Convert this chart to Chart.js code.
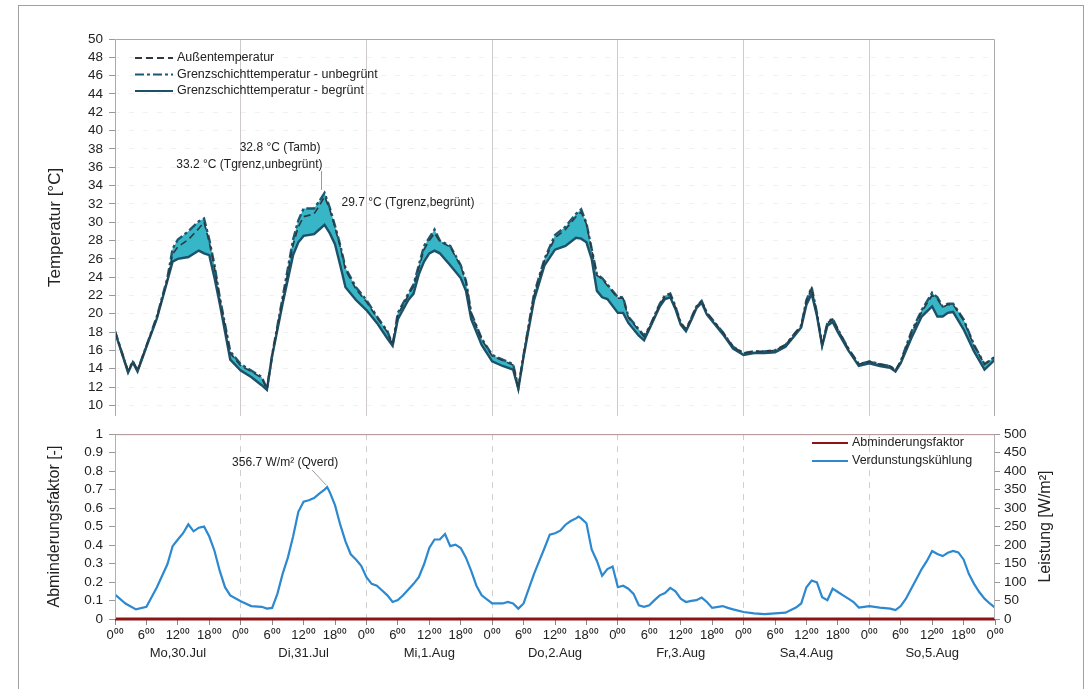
<!DOCTYPE html>
<html>
<head>
<meta charset="utf-8">
<script src="https://cdn.jsdelivr.net/npm/chart.js@4.4.0/dist/chart.umd.min.js"></script>
<style>
  body { margin: 0; background: #fff; width: 1090px; height: 689px; overflow: hidden; position: relative; }
  #rahmen { position: absolute; left: 18px; top: 5px; width: 1064px; height: 700px; border: 1px solid #a0a0a0; }
  #oben { position: absolute; left: 0; top: 0; }
  #unten { position: absolute; left: 0; top: 420px; }
</style>
</head>
<body>
<div id="rahmen"></div>
<canvas id="oben" width="1090" height="430"></canvas>
<canvas id="unten" width="1090" height="269"></canvas>
<script>
// Stunden ab Mo, 30.Jul 0:00
const stunden = [0,2.5,3.4,4.3,6,8,10,11,12,14,
  16,17,18,19,20,22,24,26,28,29,
  30,32,34,35,36,38,39,40,41,42,
  43,44,46,48,50,52,53,54,56,57,
  58,59,60,61,62,64,66,67,68,70,
  72,74,76,77,78,80,82,84,86,88,
  89,90,91,92,93,94,96,97,98,100,
  101,102,104,105,106,107,108,109,110,111,
  112,113,114,116,118,120,122,124,126,128,
  130,131,132,133,134,135,136,137,138,140,
  142,144,146,148,149,150,152,154,156,157,
  158,159,160,162,164,166,168];

const tAussen = [18.1,13.7,14.8,13.8,16.5,19.6,23.7,26.5,27.3,28.1,
  29.3,30.0,27.8,25.0,21.6,15.7,14.3,13.7,13.0,11.8,
  15.5,21.5,27.5,29.5,30.6,30.9,31.8,32.8,31.4,29.4,
  27.3,24.8,22.7,21.3,19.6,18.0,16.6,19.9,22.0,23.0,
  25.0,27.0,28.0,28.8,27.9,27.3,25.2,23.5,20.0,17.2,
  15.4,14.9,14.4,11.9,15.5,22.0,25.8,28.3,29.2,30.6,
  31.1,29.8,27.0,24.2,23.8,23.1,21.7,21.7,19.6,18.2,
  17.5,18.5,21.0,21.9,22.1,20.7,19.0,18.3,19.5,20.8,
  21.4,20.1,19.4,18.0,16.4,15.7,15.9,15.9,16.0,16.6,
  18.0,18.7,21.4,22.8,20.0,16.6,19.0,19.4,18.3,16.2,
  14.5,14.8,14.5,14.3,13.8,14.8,17.8,20.2,22.0,21.6,
  20.7,21.0,21.0,19.3,16.5,14.5,15.3];

const tUnbegruent = [18.1,13.7,14.8,13.8,16.5,19.7,23.9,27.1,28.1,29.0,
  30.1,30.4,28.1,25.3,21.8,15.9,14.5,13.8,13.1,11.8,
  15.5,21.8,28.1,30.2,31.5,31.5,32.3,33.2,31.6,29.6,
  27.5,25.0,22.9,21.5,19.7,18.1,16.6,20.1,22.2,23.2,
  25.3,27.4,28.3,29.2,28.0,27.4,25.3,23.6,20.1,17.3,
  15.5,15.0,14.5,11.9,15.5,22.2,26.0,28.6,29.5,30.9,
  31.4,29.9,27.1,24.3,23.9,23.2,21.8,21.8,19.7,18.3,
  17.6,18.5,21.1,22.0,22.2,20.8,19.0,18.3,19.5,20.8,
  21.4,20.1,19.4,18.0,16.4,15.7,15.9,15.9,16.0,16.6,
  18.0,18.7,21.5,22.9,20.1,16.6,19.0,19.5,18.3,16.2,
  14.5,14.8,14.5,14.3,13.8,14.8,18.0,20.4,22.3,21.8,
  20.8,21.1,21.1,19.4,16.6,14.5,15.3];

const tBegruent = [18.0,13.6,14.7,13.7,16.4,19.5,23.6,25.7,26.0,26.2,
  26.9,26.6,26.4,23.9,21.1,15.0,13.8,13.1,12.2,11.7,
  15.4,21.1,26.4,27.8,28.5,28.7,29.2,29.7,28.8,27.6,
  25.3,22.9,21.5,20.4,19.0,17.3,16.5,19.4,21.5,22.2,
  24.3,25.7,26.6,26.9,26.6,25.3,23.9,22.5,19.4,16.6,
  14.8,14.3,13.9,11.8,15.3,21.5,25.3,27.0,27.4,28.3,
  28.2,27.8,26.0,22.5,21.8,21.6,20.1,20.1,19.0,17.6,
  17.1,18.3,20.8,21.6,21.8,20.5,18.8,18.1,19.3,20.6,
  21.2,19.9,19.2,17.8,16.2,15.5,15.7,15.7,15.8,16.4,
  17.8,18.5,21.0,22.2,19.8,16.5,18.7,19.1,18.0,16.0,
  14.3,14.6,14.3,14.1,13.7,14.6,17.3,19.7,20.8,19.7,
  19.7,20.1,20.2,18.3,15.9,13.9,15.0];

const stundenQ = [0,2,4,6,8,10,11,12,13,14,
  15,16,17,18,19,20,21,22,24,26,
  28,29,30,31,32,33,34,35,36,37,
  38,39,40,40.5,41,42,43,44,45,46,
  47,48,49,50,51,52,53,54,55,56,
  57,58,59,60,61,62,63,64,65,66,
  67,68,69,70,72,74,75,76,77,78,
  79,80,81,82,83,84,85,86,87,88,
  88.5,89,90,91,92,93,94,95,96,97,
  98,99,100,101,102,103,104,105,106,107,
  108,109,110,111,112,113,114,116,117,118,
  120,122,124,126,128,130,131,132,133,134,
  135,136,137,138,139,140,141,142,143,144,
  146,148,149,150,151,152,153,154,155,156,
  157,158,159,160,161,162,163,164,165,166,
  167,168];

const qVerd = [66,42,26,33,86,148,197,215,232,256,
  237,247,250,223,184,130,86,64,48,35,
  33,28,30,68,122,166,223,290,317,321,
  327,339,350,356.7,343,308,255,210,175,161,
  144,113,95,90,77,64,46,51,64,80,
  95,113,148,192,215,215,230,197,201,192,
  166,130,90,64,42,42,46,42,28,42,
  82,122,157,192,228,232,239,255,265,272,
  277,272,259,188,157,117,135,142,86,90,
  82,68,37,33,37,51,64,70,84,75,
  55,46,49,51,58,46,30,35,30,26,
  19,15,13,15,17,31,42,86,104,99,
  59,51,82,73,64,55,46,31,33,35,
  31,28,24,35,55,82,108,135,157,184,
  176,170,179,184,180,161,122,95,73,55,
  42,31];

const abmStunden = [0, 168];
const abminderung = [0, 0];

const tempTicks = [10,12,14,16,18,20,22,24,26,28,30,32,34,36,38,40,42,44,46,48,50];
const faktorTicks = [0,0.1,0.2,0.3,0.4,0.5,0.6,0.7,0.8,0.9,1];
const leistungTicks = [0,50,100,150,200,250,300,350,400,450,500];
const zeitTicks = [];
for (let h = 0; h <= 168; h += 6) zeitTicks.push(h);
const tagGrenzen = [24,48,72,96,120,144];
const tage = ['Mo,30.Jul','Di,31.Jul','Mi,1.Aug','Do,2.Aug','Fr,3.Aug','Sa,4.Aug','So,5.Aug'];
const uhrzeiten = {0: '0\u2070\u2070', 6: '6\u2070\u2070', 12: '12\u2070\u2070', 18: '18\u2070\u2070'};

const schrift = '"Liberation Sans", Arial, sans-serif';
const textFarbe = '#222';

function punkte(xs, ys) {
  return xs.map((x, i) => ({ x: x, y: ys[i] }));
}

// Rahmen um die Plotfläche
const rahmenPlugin = {
  id: 'rahmenPlugin',
  afterDraw(chart, args, opts) {
    const a = chart.chartArea;
    const c = chart.ctx;
    c.save();
    c.lineWidth = 1;
    c.strokeStyle = opts.farbe || '#a8a8a8';
    c.beginPath();
    c.moveTo(a.left + 0.5, a.bottom);
    c.lineTo(a.left + 0.5, a.top + 0.5);
    c.lineTo(a.right - 0.5, a.top + 0.5);
    c.lineTo(a.right - 0.5, a.bottom);
    c.stroke();
    if (opts.oben) {
      c.strokeStyle = opts.oben;
      c.beginPath();
      c.moveTo(a.left, a.top + 0.5);
      c.lineTo(a.right, a.top + 0.5);
      c.stroke();
    }
    c.restore();
  }
};

// Legende (selbst gezeichnet, in der Plotfläche)
const legendePlugin = {
  id: 'legendePlugin',
  afterDraw(chart, args, opts) {
    const c = chart.ctx;
    c.save();
    c.font = '12.5px ' + schrift;
    c.textBaseline = 'middle';
    c.fillStyle = textFarbe;
    opts.eintraege.forEach((idx, i) => {
      const ds = chart.data.datasets[idx];
      const y = opts.y + i * opts.abstand;
      c.strokeStyle = ds.borderColor;
      c.lineWidth = 2;
      c.setLineDash(ds.borderDash || []);
      c.beginPath();
      c.moveTo(opts.x, y);
      c.lineTo(opts.x + opts.laenge, y);
      c.stroke();
      c.setLineDash([]);
      c.fillText(ds.label, opts.x + opts.laenge + 4, y);
    });
    c.restore();
  }
};

// Beschriftungen der Spitzenwerte
const notizPlugin = {
  id: 'notizPlugin',
  afterDraw(chart, args, opts) {
    const c = chart.ctx;
    c.save();
    c.font = '12px ' + schrift;
    c.fillStyle = textFarbe;
    c.textBaseline = 'middle';
    opts.notizen.forEach(n => {
      const px = chart.scales.x.getPixelForValue(n.x);
      const py = chart.scales[n.achse].getPixelForValue(n.y);
      if (n.linie) {
        c.strokeStyle = '#9a9a9a';
        c.lineWidth = 1;
        c.beginPath();
        c.moveTo(px + n.linie[0], py + n.linie[1]);
        c.lineTo(px + n.linie[2], py + n.linie[3]);
        c.stroke();
      }
      n.zeilen.forEach(z => {
        c.textAlign = z.align;
        c.fillText(z.text, px + z.dx, py + z.dy);
      });
    });
    if (opts.rechtsTitel) {
      const a = chart.chartArea;
      c.font = '16px ' + schrift;
      c.textAlign = 'center';
      c.translate(opts.rechtsTitel.x, (a.top + a.bottom) / 2);
      c.rotate(-Math.PI / 2);
      c.fillText(opts.rechtsTitel.text, 0, 0);
    }
    c.restore();
  }
};

const tickFont = { family: schrift, size: 13.5 };

new Chart(document.getElementById('oben'), {
  type: 'line',
  data: {
    datasets: [
      { label: 'Außentemperatur', data: punkte(stunden, tAussen), borderColor: '#2f3a40',
        borderWidth: 1.6, borderDash: [7, 4], pointRadius: 0, fill: false, tension: 0 },
      { label: 'Grenzschichttemperatur - begrünt', data: punkte(stunden, tBegruent), borderColor: '#1b5169',
        borderWidth: 2.4, pointRadius: 0, fill: false, tension: 0 },
      { label: 'Grenzschichttemperatur - unbegrünt', data: punkte(stunden, tUnbegruent), borderColor: '#1d5872',
        borderWidth: 2.4, borderDash: [9, 3, 3, 3], pointRadius: 0, fill: 1,
        backgroundColor: '#36b6c7', tension: 0 }
    ]
  },
  options: {
    responsive: false,
    animation: false,
    layout: { padding: { top: 39, right: 95, left: 0, bottom: 0 } },
    plugins: {
      legend: { display: false },
      tooltip: { enabled: false },
      rahmenPlugin: { farbe: '#a9a9a9' },
      legendePlugin: { x: 135, y: 58, abstand: 16.5, laenge: 38, eintraege: [0, 2, 1] },
      notizPlugin: {
        notizen: [
          { x: 40, y: 33.2, achse: 'y', linie: [-3, -22, -3, -3], zeilen: [
            { text: '32.8 °C (Tamb)', align: 'right', dx: -4, dy: -45 },
            { text: '33.2 °C (Tgrenz,unbegrünt)', align: 'right', dx: -2, dy: -28 }
          ] },
          { x: 40, y: 29.7, achse: 'y', zeilen: [
            { text: '29.7 °C (Tgrenz,begrünt)', align: 'left', dx: 17, dy: -22 }
          ] }
        ]
      }
    },
    scales: {
      x: {
        type: 'linear', min: 0, max: 168,
        afterBuildTicks: s => { s.ticks = tagGrenzen.map(v => ({ value: v })); },
        ticks: { display: false },
        grid: { color: '#cfcaca', drawTicks: false },
        border: { display: false },
        afterFit: s => { s.height = 0; }
      },
      y: {
        min: 8.85, max: 50,
        afterBuildTicks: s => { s.ticks = tempTicks.map(v => ({ value: v })); },
        ticks: { font: tickFont, color: textFarbe, padding: 6, autoSkip: false },
        grid: { color: '#f1f1f1', tickColor: '#999', tickLength: 6 },
        border: { display: false, dash: [5, 9] },
        title: { display: true, text: 'Temperatur [°C]', color: textFarbe,
          font: { family: schrift, size: 17 }, padding: { top: 45, bottom: 0 } },
        afterFit: s => { s.width = 115; }
      }
    }
  },
  plugins: [rahmenPlugin, legendePlugin, notizPlugin]
});

new Chart(document.getElementById('unten'), {
  type: 'line',
  data: {
    datasets: [
      { label: 'Abminderungsfaktor', data: punkte(abmStunden, abminderung), yAxisID: 'y',
        borderColor: '#8e1414', borderWidth: 3, pointRadius: 0, fill: false, clip: 6 },
      { label: 'Verdunstungskühlung', data: punkte(stundenQ, qVerd), yAxisID: 'y2',
        borderColor: '#2c88cf', borderWidth: 2.2, pointRadius: 0, fill: false, tension: 0 }
    ]
  },
  options: {
    responsive: false,
    animation: false,
    layout: { padding: { top: 10, right: 0, left: 0, bottom: 0 } },
    plugins: {
      legend: { display: false },
      tooltip: { enabled: false },
      rahmenPlugin: { farbe: '#b0b0b0', oben: '#b89a9a' },
      legendePlugin: { x: 812, y: 23, abstand: 18, laenge: 36, eintraege: [0, 1] },
      notizPlugin: {
        notizen: [
          { x: 40.5, y: 356.7, achse: 'y2', linie: [-15, -17, -1, -2], zeilen: [
            { text: '356.7 W/m² (Qverd)', align: 'right', dx: 11, dy: -24 }
          ] }
        ],
        rechtsTitel: { x: 1046, text: 'Leistung [W/m²]' }
      }
    },
    scales: {
      x: {
        type: 'linear', min: 0, max: 168,
        afterBuildTicks: s => { s.ticks = zeitTicks.map(v => ({ value: v })); },
        ticks: {
          font: { family: schrift, size: 13, lineHeight: 1.4 }, color: textFarbe, padding: 1, maxRotation: 0,
          autoSkip: false,
          callback: v => {
            const h = v % 24;
            const tag = Math.floor(v / 24);
            if (h === 12) return [uhrzeiten[h], tage[tag]];
            return [uhrzeiten[h], ''];
          }
        },
        grid: {
          color: c => (c.tick && c.tick.value % 24 === 0 && c.tick.value > 0 && c.tick.value < 168) ? '#cfcfcf' : 'rgba(0,0,0,0)',
          tickColor: '#888', tickLength: 6
        },
        border: { display: false, dash: [6, 6] },
        afterFit: s => { s.height = 70; }
      },
      y: {
        position: 'left', min: 0, max: 1,
        afterBuildTicks: s => { s.ticks = faktorTicks.map(v => ({ value: v })); },
        ticks: { font: tickFont, color: textFarbe, padding: 6, autoSkip: false,
          callback: v => (v === 0 || v === 1) ? String(v) : v.toFixed(1) },
        grid: { drawOnChartArea: false, tickColor: '#999', tickLength: 6 },
        border: { display: false },
        title: { display: true, text: 'Abminderungsfaktor [-]', color: textFarbe,
          font: { family: schrift, size: 16 }, padding: { top: 45, bottom: 0 } },
        afterFit: s => { s.width = 115; }
      },
      y2: {
        position: 'right', min: 0, max: 500,
        afterBuildTicks: s => { s.ticks = leistungTicks.map(v => ({ value: v })); },
        ticks: { font: tickFont, color: textFarbe, padding: 4, autoSkip: false },
        grid: { drawOnChartArea: false, tickColor: '#999', tickLength: 5 },
        border: { display: false },
        afterFit: s => { s.width = 95; }
      }
    }
  },
  plugins: [rahmenPlugin, legendePlugin, notizPlugin]
});
</script>
</body>
</html>
